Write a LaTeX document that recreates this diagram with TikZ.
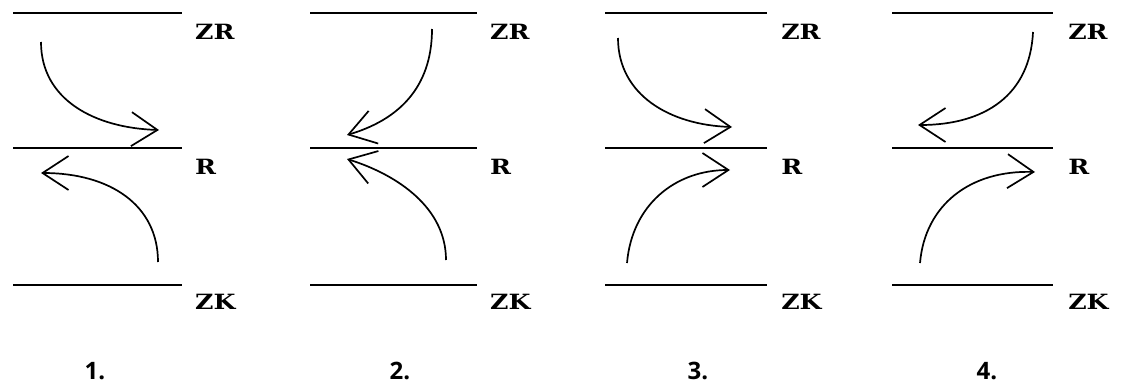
\documentclass[tikz,border=0pt]{standalone}
\usepackage{fontspec}
\newfontfamily\lblfont{DejaVu Serif}
\newfontfamily\numfont{Open Sans}
\usetikzlibrary{arrows.meta}
\tikzset{
  thickline/.style={line width=2.6pt},
  midline/.style={line width=1.6pt},
  flow/.style={line width=1.7pt,-{Straight Barb[length=26pt,width=34pt]}},
  lbl/.style={anchor=west,inner sep=0pt,font=\lblfont\bfseries\fontsize{21}{21}\selectfont,xscale=1.2},
  num/.style={inner sep=0pt,font=\numfont\bfseries\fontsize{24}{24}\selectfont}
}
\begin{document}
\begin{tikzpicture}[x=1pt,y=-1pt]
\useasboundingbox (0,0) rectangle (1129,388);
% panel lines: left x, right x, label x
\foreach \p/\l/\r/\t in {1/13/182/195, 2/310/477/490, 3/605/767/781, 4/892/1053/1068}{
  \coordinate (zrA\p) at (\l,13);  \coordinate (zrB\p) at (\r,13);
  \coordinate (rA\p)  at (\l,148); \coordinate (rB\p)  at (\r,148);
  \coordinate (zkA\p) at (\l,285); \coordinate (zkB\p) at (\r,285);
  \draw[thickline] (zrA\p) -- (zrB\p);
  \draw[midline] (rA\p) -- (rB\p);
  \draw[thickline] (zkA\p) -- (zkB\p);
  \node[lbl] (zr\p) at (\t,32) {ZR};
  \node[lbl] (r\p) at (\t,167) {R};
  \node[lbl] (zk\p) at (\t,302) {ZK};
}
\node[num] (n1) at (95,371) {1.};
\node[num] (n2) at (400,371) {2.};
\node[num] (n3) at (698,371) {3.};
\node[num] (n4) at (987,371) {4.};
% panel 1
\coordinate (s1a) at (41,42);   \coordinate (t1a) at (159,130);
\coordinate (s1b) at (158,262); \coordinate (t1b) at (41,173);
\draw[flow] (s1a) .. controls (41,100) and (95,128) .. (t1a);
\draw[flow] (s1b) .. controls (158,205) and (110,173) .. (t1b);
% panel 2
\coordinate (s2a) at (432,29);  \coordinate (t2a) at (347,135);
\coordinate (s2b) at (446,260); \coordinate (t2b) at (347,159);
\draw[flow] (s2a) .. controls (432,88) and (398,120) .. (t2a);
\draw[flow] (s2b) .. controls (446,208) and (398,175) .. (t2b);
% panel 3
\coordinate (s3a) at (618,38);  \coordinate (t3a) at (732,127);
\coordinate (s3b) at (627,263); \coordinate (t3b) at (730,170);
\draw[flow] (s3a) .. controls (618,95) and (670,125) .. (t3a);
\draw[flow] (s3b) .. controls (632,205) and (675,170) .. (t3b);
% panel 4
\coordinate (s4a) at (1033,32); \coordinate (t4a) at (918,125);
\coordinate (s4b) at (920,263); \coordinate (t4b) at (1035,172);
\draw[flow] (s4a) .. controls (1030,95) and (985,125) .. (t4a);
\draw[flow] (s4b) .. controls (925,205) and (970,170) .. (t4b);
\end{tikzpicture}
\end{document}
